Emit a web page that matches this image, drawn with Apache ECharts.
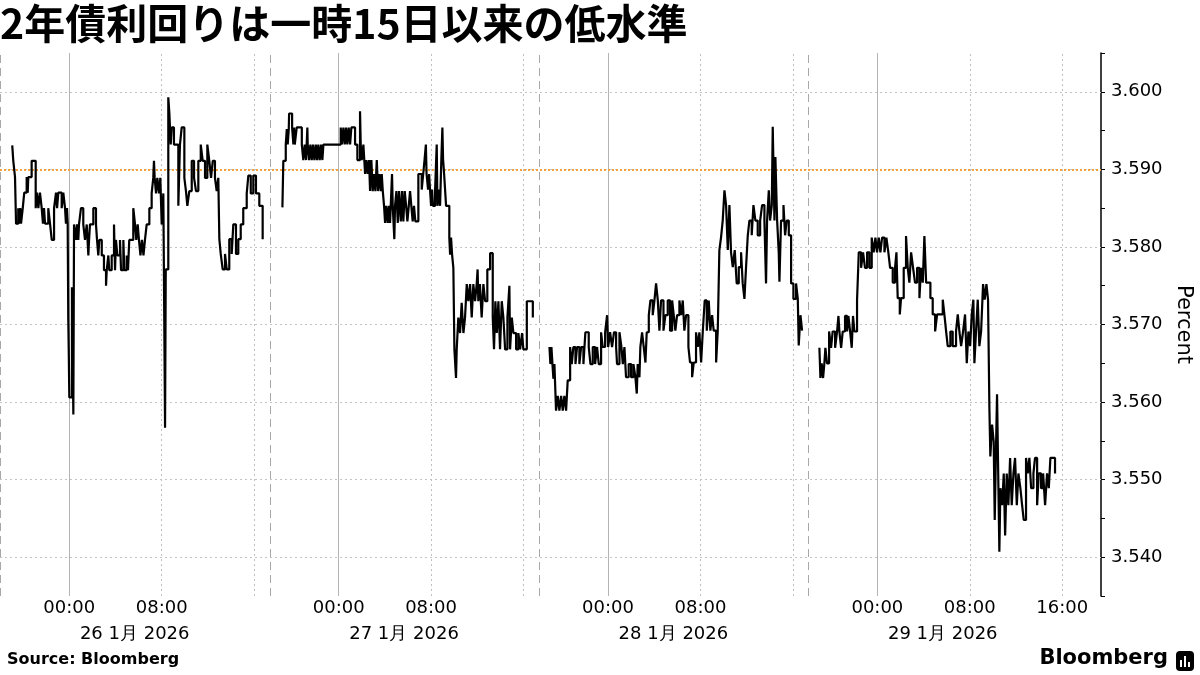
<!DOCTYPE html>
<html>
<head>
<meta charset="utf-8">
<script src="https://cdn.jsdelivr.net/npm/echarts@6/dist/echarts.min.js"></script>
<style>
  html, body { margin: 0; padding: 0; background: #fff; }
  #chart { width: 1200px; height: 675px; }
</style>
</head>
<body>
<div id="chart"></div>
<script>
  // ticks of the 2y yield, [hours after the 18:00 open, percent]
  var jan26 = [[1.06,3.5931],[1.15,3.5911],[1.30,3.5890],[1.39,3.5830],[1.58,3.5850],[1.67,3.5830],[1.76,3.5850],[1.82,3.5830],[1.97,3.5850],[2.10,3.5870],[2.31,3.5890],[2.40,3.5870],[2.45,3.5890],[2.74,3.5911],[3.09,3.5850],[3.20,3.5870],[3.32,3.5850],[3.46,3.5870],[3.61,3.5850],[3.72,3.5830],[3.81,3.5850],[3.90,3.5830],[4.18,3.5850],[4.33,3.5830],[4.48,3.5809],[4.68,3.5850],[4.85,3.5870],[4.94,3.5850],[5.05,3.5870],[5.34,3.5850],[5.48,3.5870],[5.63,3.5850],[5.71,3.5830],[5.80,3.5850],[5.86,3.5830],[5.91,3.5709],[5.95,3.5668],[6.00,3.5606],[6.23,3.5748],[6.35,3.5584],[6.41,3.5829],[6.58,3.5809],[6.67,3.5829],[6.78,3.5809],[6.84,3.5829],[7.01,3.5850],[7.21,3.5829],[7.36,3.5809],[7.51,3.5829],[7.65,3.5789],[7.71,3.5809],[7.79,3.5829],[8.08,3.5850],[8.31,3.5829],[8.40,3.5809],[8.51,3.5789],[8.60,3.5809],[8.81,3.5789],[9.00,3.5770],[9.18,3.5750],[9.24,3.5770],[9.38,3.5789],[9.46,3.5770],[9.67,3.5789],[9.87,3.5829],[9.96,3.5770],[10.04,3.5809],[10.16,3.5789],[10.39,3.5809],[10.48,3.5770],[10.68,3.5809],[10.76,3.5770],[10.97,3.5789],[11.08,3.5770],[11.19,3.5809],[11.54,3.5850],[11.69,3.5829],[11.80,3.5809],[11.92,3.5829],[12.03,3.5809],[12.16,3.5789],[12.29,3.5809],[12.42,3.5789],[12.55,3.5809],[12.70,3.5829],[12.93,3.5850],[13.13,3.5869],[13.27,3.5889],[13.33,3.5911],[13.39,3.5889],[13.51,3.5869],[13.62,3.5889],[13.77,3.5869],[13.88,3.5889],[14.00,3.5829],[14.14,3.5869],[14.29,3.5567],[14.35,3.5771],[14.57,3.5993],[14.66,3.5973],[14.78,3.5932],[14.87,3.5954],[15.06,3.5932],[15.44,3.5853],[15.58,3.5932],[15.73,3.5954],[15.96,3.5889],[16.10,3.5872],[16.22,3.5853],[16.39,3.5872],[16.60,3.5911],[16.80,3.5889],[16.97,3.5872],[17.17,3.5911],[17.38,3.5932],[17.55,3.5911],[17.75,3.5889],[17.95,3.5932],[18.12,3.5911],[18.27,3.5889],[18.42,3.5911],[18.61,3.5889],[18.76,3.5872],[18.90,3.5889],[18.99,3.5810],[19.11,3.5791],[19.28,3.5771],[19.48,3.5791],[19.63,3.5771],[19.85,3.5810],[20.06,3.5791],[20.20,3.5829],[20.43,3.5791],[20.63,3.5810],[20.84,3.5829],[21.06,3.5850],[21.36,3.5869],[21.50,3.5892],[21.71,3.5869],[21.93,3.5892],[22.16,3.5869],[22.45,3.5853],[22.74,3.5810]];
  var jan27 = [[1.13,3.5851],[1.21,3.5911],[1.42,3.5932],[1.51,3.5952],[1.59,3.5932],[1.68,3.5952],[1.71,3.5972],[1.97,3.5954],[2.08,3.5932],[2.14,3.5954],[2.20,3.5932],[2.37,3.5954],[2.81,3.5932],[2.94,3.5912],[3.06,3.5932],[3.18,3.5912],[3.29,3.5954],[3.32,3.5932],[3.44,3.5912],[3.55,3.5932],[3.67,3.5912],[3.78,3.5932],[3.90,3.5912],[4.02,3.5932],[4.13,3.5912],[4.24,3.5932],[4.36,3.5912],[4.48,3.5932],[4.59,3.5912],[4.68,3.5932],[6.18,3.5954],[6.29,3.5932],[6.41,3.5954],[6.53,3.5932],[6.64,3.5954],[6.75,3.5932],[6.87,3.5954],[6.99,3.5932],[7.10,3.5954],[7.42,3.5932],[7.62,3.5912],[7.85,3.5975],[7.91,3.5932],[8.00,3.5912],[8.14,3.5932],[8.29,3.5894],[8.40,3.5912],[8.52,3.5894],[8.63,3.5912],[8.72,3.5872],[8.83,3.5912],[8.95,3.5872],[9.06,3.5894],[9.18,3.5872],[9.30,3.5912],[9.41,3.5872],[9.52,3.5894],[9.65,3.5872],[9.73,3.5894],[9.82,3.5872],[9.93,3.5853],[10.02,3.5831],[10.13,3.5853],[10.25,3.5831],[10.36,3.5853],[10.45,3.5831],[10.62,3.5894],[10.68,3.5853],[10.82,3.5810],[10.88,3.5853],[11.00,3.5872],[11.12,3.5831],[11.23,3.5872],[11.38,3.5833],[11.49,3.5872],[11.60,3.5833],[11.72,3.5872],[11.84,3.5853],[11.95,3.5833],[12.07,3.5853],[12.18,3.5872],[12.29,3.5853],[12.41,3.5833],[12.52,3.5853],[12.64,3.5833],[12.90,3.5894],[13.19,3.5874],[13.32,3.5894],[13.44,3.5913],[13.55,3.5932],[13.61,3.5894],[13.74,3.5874],[13.83,3.5894],[13.91,3.5874],[14.00,3.5853],[14.09,3.5874],[14.17,3.5853],[14.35,3.5874],[14.49,3.5932],[14.55,3.5853],[14.69,3.5874],[14.78,3.5853],[14.89,3.5913],[14.98,3.5954],[15.04,3.5913],[15.13,3.5894],[15.30,3.5853],[15.58,3.5812],[15.65,3.5790],[15.73,3.5812],[15.82,3.5790],[15.93,3.5773],[16.02,3.5668],[16.16,3.5631],[16.22,3.5668],[16.36,3.5709],[16.51,3.5689],[16.65,3.5728],[16.80,3.5689],[16.94,3.5709],[17.09,3.5752],[17.23,3.5730],[17.38,3.5752],[17.52,3.5709],[17.66,3.5752],[17.81,3.5730],[17.95,3.5752],[18.03,3.5771],[18.09,3.5730],[18.23,3.5752],[18.38,3.5709],[18.53,3.5752],[18.68,3.5730],[18.87,3.5771],[19.11,3.5792],[19.34,3.5709],[19.45,3.5668],[19.57,3.5730],[19.69,3.5689],[19.83,3.5730],[19.97,3.5668],[20.12,3.5730],[20.26,3.5709],[20.41,3.5668],[20.61,3.5709],[20.78,3.5750],[20.84,3.5668],[20.99,3.5709],[21.13,3.5689],[21.36,3.5668],[21.56,3.5689],[21.71,3.5668],[21.88,3.5689],[21.99,3.5668],[22.29,3.5730],[22.81,3.5709]];
  var jan28 = [[0.93,3.5671],[1.01,3.5649],[1.10,3.5671],[1.19,3.5649],[1.27,3.5630],[1.36,3.5649],[1.50,3.5589],[1.65,3.5608],[1.79,3.5589],[1.94,3.5608],[2.08,3.5589],[2.22,3.5608],[2.37,3.5589],[2.51,3.5628],[2.72,3.5671],[2.86,3.5649],[3.00,3.5671],[3.18,3.5649],[3.32,3.5671],[3.52,3.5649],[3.67,3.5671],[3.87,3.5649],[4.04,3.5690],[4.33,3.5671],[4.48,3.5649],[4.68,3.5671],[4.88,3.5649],[5.05,3.5671],[5.20,3.5649],[5.40,3.5690],[5.54,3.5671],[5.75,3.5690],[5.92,3.5712],[6.01,3.5671],[6.18,3.5690],[6.35,3.5671],[6.52,3.5690],[6.70,3.5671],[6.78,3.5649],[6.99,3.5690],[7.16,3.5671],[7.28,3.5649],[7.42,3.5671],[7.56,3.5632],[7.79,3.5649],[8.00,3.5632],[8.20,3.5649],[8.37,3.5632],[8.49,3.5611],[8.57,3.5649],[8.72,3.5632],[8.80,3.5671],[8.95,3.5690],[9.09,3.5671],[9.24,3.5651],[9.35,3.5690],[9.53,3.5712],[9.67,3.5731],[9.87,3.5712],[10.02,3.5731],[10.16,3.5753],[10.31,3.5731],[10.45,3.5692],[10.59,3.5731],[10.80,3.5692],[10.97,3.5712],[11.17,3.5731],[11.37,3.5692],[11.55,3.5731],[11.69,3.5712],[11.83,3.5692],[11.98,3.5712],[12.18,3.5731],[12.33,3.5712],[12.47,3.5731],[12.61,3.5692],[12.76,3.5712],[12.96,3.5671],[13.10,3.5651],[13.28,3.5632],[13.42,3.5651],[13.62,3.5690],[13.77,3.5671],[13.91,3.5690],[14.06,3.5651],[14.20,3.5690],[14.37,3.5731],[14.55,3.5692],[14.72,3.5731],[14.86,3.5692],[15.01,3.5712],[15.15,3.5692],[15.36,3.5651],[15.50,3.5692],[15.64,3.5796],[15.79,3.5813],[15.93,3.5834],[16.08,3.5873],[16.22,3.5854],[16.37,3.5796],[16.51,3.5854],[16.65,3.5793],[16.80,3.5774],[16.97,3.5796],[17.14,3.5753],[17.32,3.5774],[17.52,3.5793],[17.66,3.5753],[17.81,3.5733],[17.95,3.5774],[18.10,3.5815],[18.24,3.5834],[18.44,3.5815],[18.59,3.5854],[18.76,3.5834],[18.96,3.5815],[19.17,3.5834],[19.34,3.5854],[19.54,3.5834],[19.68,3.5753],[19.77,3.5834],[19.92,3.5873],[20.03,3.5834],[20.18,3.5854],[20.26,3.5955],[20.41,3.5834],[20.49,3.5916],[20.64,3.5834],[20.78,3.5793],[20.84,3.5755],[20.98,3.5834],[21.19,3.5854],[21.33,3.5815],[21.47,3.5834],[21.65,3.5815],[21.85,3.5753],[22.05,3.5733],[22.28,3.5753],[22.43,3.5733],[22.51,3.5673],[22.66,3.5712],[22.80,3.5692]];
  var jan29 = [[0.98,3.5670],[1.07,3.5631],[1.18,3.5650],[1.30,3.5631],[1.41,3.5650],[1.50,3.5670],[1.64,3.5650],[1.82,3.5691],[1.99,3.5670],[2.13,3.5691],[2.34,3.5670],[2.51,3.5691],[2.63,3.5711],[2.71,3.5691],[2.86,3.5670],[3.00,3.5691],[3.20,3.5711],[3.38,3.5691],[3.49,3.5711],[3.64,3.5691],[3.78,3.5670],[3.89,3.5711],[4.01,3.5691],[4.24,3.5732],[4.39,3.5793],[4.59,3.5773],[4.76,3.5793],[4.93,3.5773],[5.11,3.5793],[5.31,3.5773],[5.51,3.5812],[5.68,3.5793],[5.83,3.5812],[5.97,3.5793],[6.12,3.5812],[6.26,3.5793],[6.41,3.5812],[6.61,3.5793],[6.78,3.5812],[6.95,3.5793],[7.10,3.5773],[7.33,3.5754],[7.53,3.5773],[7.65,3.5793],[7.76,3.5734],[7.94,3.5713],[8.05,3.5734],[8.28,3.5773],[8.48,3.5814],[8.63,3.5773],[8.77,3.5754],[8.92,3.5793],[9.09,3.5773],[9.26,3.5754],[9.44,3.5773],[9.64,3.5734],[9.78,3.5773],[9.93,3.5754],[10.07,3.5814],[10.22,3.5754],[10.59,3.5734],[10.79,3.5713],[11.00,3.5691],[11.17,3.5713],[11.66,3.5732],[11.80,3.5713],[11.95,3.5691],[12.09,3.5672],[12.32,3.5691],[12.52,3.5672],[12.81,3.5691],[12.96,3.5713],[13.10,3.5691],[13.25,3.5672],[13.42,3.5691],[13.59,3.5713],[13.74,3.5650],[13.88,3.5691],[14.03,3.5672],[14.17,3.5713],[14.31,3.5732],[14.40,3.5650],[14.54,3.5691],[14.69,3.5732],[14.83,3.5672],[14.98,3.5691],[15.15,3.5752],[15.29,3.5732],[15.44,3.5752],[15.58,3.5732],[15.70,3.5590],[15.78,3.5530],[15.93,3.5571],[16.07,3.5549],[16.16,3.5448],[16.28,3.5549],[16.36,3.5610],[16.48,3.5489],[16.56,3.5407],[16.65,3.5489],[16.80,3.5467],[16.94,3.5508],[17.06,3.5428],[17.20,3.5508],[17.34,3.5467],[17.49,3.5528],[17.63,3.5467],[17.78,3.5508],[17.92,3.5528],[18.07,3.5467],[18.21,3.5508],[18.38,3.5489],[18.53,3.5467],[18.67,3.5448],[18.87,3.5528],[19.02,3.5508],[19.16,3.5528],[19.31,3.5489],[19.51,3.5508],[19.65,3.5528],[19.83,3.5467],[19.97,3.5508],[20.17,3.5489],[20.35,3.5508],[20.52,3.5467],[20.69,3.5508],[20.84,3.5489],[20.98,3.5528],[21.38,3.5508]];

  var sessions = [jan26, jan27, jan28, jan29];
  var sessionDates = ['26 1月 2026', '27 1月 2026', '28 1月 2026', '29 1月 2026'];
  var clockNames = ['00:00', '08:00', '16:00'];
  var clockHours = [6, 14, 22];            // hours after the 18:00 open
  var yTicks = [3.54, 3.55, 3.56, 3.57, 3.58, 3.59, 3.60];
  var refLevel = 3.5891;

  var SESSION = 23.32;  // 23h of trading plus the squeezed close gap
  var X_MAX = 95.32;

  var labelMap = {};
  var labelVals = [];
  sessions.forEach(function (s, k) {
    clockHours.forEach(function (h, i) {
      if (i === 2 && k < 3) return;
      var v = +(k * SESSION + h).toFixed(2);
      labelVals.push(v);
      labelMap[v.toFixed(2)] = clockNames[i];
    });
  });
  var dateMap = {};
  var dateVals = sessionDates.map(function (d, k) {
    var v = +(k * SESSION + SESSION / 2).toFixed(2);
    dateMap[v.toFixed(2)] = d;
    return v;
  });

  var gridLines = [];
  yTicks.forEach(function (t) {
    gridLines.push({ yAxis: t, lineStyle: { color: '#c4c4c4', type: [2, 3], width: 1 } });
  });
  sessions.forEach(function (s, k) {
    var o = k * SESSION;
    gridLines.push({ xAxis: o + 0.05, lineStyle: { color: '#a8a8a8', type: [8, 5], width: 1 } });
    gridLines.push({ xAxis: o + 6, lineStyle: { color: '#b4b4b4', type: 'solid', width: 1 } });
    gridLines.push({ xAxis: o + 14, lineStyle: { color: '#c0c0c0', type: [2, 3], width: 1 } });
    gridLines.push({ xAxis: o + 22, lineStyle: { color: '#c0c0c0', type: [2, 3], width: 1 } });
  });
  gridLines.push({ yAxis: refLevel, lineStyle: { color: '#f0a43a', type: [2, 2], width: 2 } });

  var series = [{
    type: 'line',
    data: [],
    silent: true,
    markLine: {
      silent: true,
      z: 1,
      symbol: ['none', 'none'],
      label: { show: false },
      animation: false,
      data: gridLines
    }
  }];
  sessions.forEach(function (s, k) {
    series.push({
      type: 'line',
      step: 'end',
      z: 3,
      showSymbol: false,
      silent: true,
      lineStyle: { color: '#000', width: 2.2 },
      data: s.map(function (p) { return [k * SESSION + p[0], p[1]]; })
    });
  });

  var font = 'DejaVu Sans';
  var chart = echarts.init(document.getElementById('chart'));
  chart.setOption({
    animation: false,
    backgroundColor: '#fff',
    title: {
      text: '2年債利回りは一時15日以来の低水準',
      left: 0, top: 3, padding: 0,
      textStyle: { fontFamily: 'Noto Sans CJK JP', fontWeight: 'bold', fontSize: 41, color: '#000' }
    },
    grid: { left: 0, right: 99, top: 53, bottom: 79, containLabel: false, outerBoundsMode: 'none' },
    xAxis: [{
      type: 'value', min: 0, max: X_MAX,
      axisLine: { show: false }, axisTick: { show: false }, splitLine: { show: false },
      axisLabel: {
        customValues: labelVals, margin: 3, fontSize: 18, color: '#000', fontFamily: font,
        formatter: function (v) { return labelMap[(+v).toFixed(2)] || ''; }
      }
    }, {
      type: 'value', min: 0, max: X_MAX, position: 'bottom', offset: 26,
      axisLine: { show: false }, axisTick: { show: false }, splitLine: { show: false },
      axisLabel: {
        customValues: dateVals, margin: 3, fontSize: 18, color: '#000', fontFamily: font,
        formatter: function (v) { return dateMap[(+v).toFixed(2)] || ''; }
      }
    }],
    yAxis: {
      type: 'value', position: 'right', min: 3.535, max: 3.605, interval: 0.005,
      axisLine: { show: true, onZero: false, lineStyle: { color: '#000', width: 1.5 } },
      axisTick: { show: true, length: 4, lineStyle: { color: '#000' } },
      splitLine: { show: false },
      axisLabel: {
        margin: 10, fontSize: 18, color: '#000', fontFamily: font,
        formatter: function (v) { return Math.round(v * 1000) % 10 === 0 ? v.toFixed(3) : ''; }
      },
      name: 'Percent', nameLocation: 'middle', nameRotate: -90, nameGap: 72,
      nameTextStyle: { fontSize: 21, color: '#000', fontFamily: font }
    },
    graphic: [
      { type: 'text', left: 7, top: 652, style: { text: 'Source: Bloomberg', font: 'bold 16px "DejaVu Sans"', fill: '#000' } },
      { type: 'text', right: 32, top: 648, style: { text: 'Bloomberg', font: 'bold 21px "DejaVu Sans"', fill: '#000' } },
      { type: 'rect', left: 1176, top: 651, shape: { width: 18, height: 20, r: 4 }, style: { fill: '#000' } },
      { type: 'rect', left: 1180, top: 660, shape: { width: 2, height: 7 }, style: { fill: '#fff' } },
      { type: 'rect', left: 1184, top: 656, shape: { width: 2, height: 11 }, style: { fill: '#fff' } },
      { type: 'rect', left: 1188, top: 662, shape: { width: 2, height: 5 }, style: { fill: '#fff' } }
    ],
    series: series
  });
  window.addEventListener('resize', chart.resize);
</script>
</body>
</html>
